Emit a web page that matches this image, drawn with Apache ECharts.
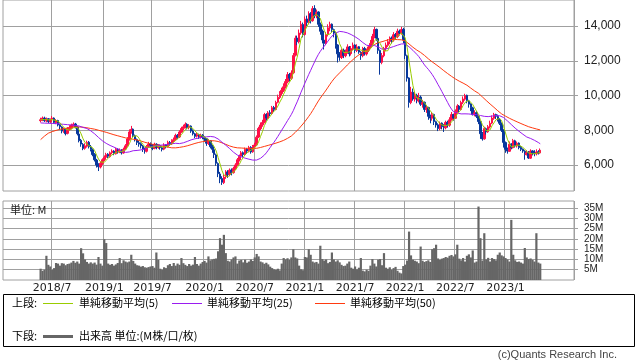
<!DOCTYPE html>
<html><head><meta charset="utf-8">
<script src="https://cdn.jsdelivr.net/npm/echarts@6/dist/echarts.min.js"></script>
<style>html,body{margin:0;padding:0;background:#fff}#c{width:638px;height:362px}</style>
</head><body><div id="c"></div>
<script>
// weekly categories start (Monday) and count; first candle index
const START_UTC = Date.UTC(2018, 0, 8);
const WEEKS = 296;
const FIRST = 19;
const LAST_GRID_INDEX = 279;

// weekly candles [open, close, low, high]
const ohlc = [
[8550,8600,8450,8720],[8620,8700,8520,8790],[8700,8550,8480,8780],[8530,8650,8460,8730],[8660,8500,8400,8700],[8480,8620,8420,8680],[8640,8700,8560,8820],[8700,8450,8380,8740],[8430,8550,8350,8640],[8560,8300,8220,8600],
[8320,8200,8050,8380],[8180,7950,7820,8230],[7930,8050,7850,8150],[8060,7800,7700,8100],[7820,8100,7760,8180],[8080,8150,7980,8290],[8140,8300,8050,8380],[8310,8350,8200,8450],[8360,8200,8100,8420],[8180,7800,7700,8230],
[7780,7400,7300,7850],[7420,7200,7050,7500],[7180,6950,6850,7260],[6960,7100,6880,7250],[7080,7300,7000,7400],[7310,7050,6950,7380],[7040,6900,6780,7150],[6880,6600,6500,6950],[6620,6300,6200,6680],[6280,6000,5850,6350],
[6020,5900,5650,6100],[5880,6100,5800,6200],[6080,6300,6000,6380],[6310,6450,6220,6550],[6440,6600,6380,6700],[6620,6500,6400,6680],[6480,6700,6420,6780],[6710,6800,6620,6900],[6800,6650,6560,6850],[6640,6900,6600,6980],
[6910,6750,6650,6960],[6740,6850,6680,6950],[6860,6700,6600,6900],[6690,6900,6650,7000],[6920,7100,6850,7200],[7110,7500,7050,7600],[7480,7900,7400,8050],[7920,8050,7800,8250],[8060,7700,7600,8100],[7680,7450,7350,7750],
[7460,7300,7150,7520],[7280,7200,7050,7400],[7220,7100,6950,7300],[7080,6900,6750,7150],[6920,6800,6650,7000],[6790,7050,6720,7150],[7060,7200,6980,7330],[7210,7150,7000,7300],[7140,6950,6850,7200],[6960,7200,6900,7280],
[7190,7000,6900,7250],[7010,7100,6930,7200],[7110,7000,6880,7180],[6990,6900,6780,7080],[6910,7150,6850,7250],[7140,7050,6950,7200],[7060,7300,7000,7400],[7290,7200,7100,7380],[7210,7400,7150,7480],[7390,7450,7300,7580],
[7460,7700,7400,7800],[7710,7600,7480,7780],[7610,7900,7550,8000],[7890,8100,7850,8200],[8110,8200,8000,8320],[8190,8350,8100,8450],[8340,8150,8050,8400],[8160,8250,8050,8350],[8240,7950,7850,8280],[7960,7800,7700,8050],
[7790,7650,7550,7850],[7660,7750,7580,7850],[7740,7600,7500,7800],[7610,7700,7520,7800],[7710,7600,7480,7780],[7590,7500,7350,7650],[7510,7250,7100,7550],[7240,7400,7150,7500],[7390,7050,6950,7420],[7060,6900,6700,7150],
[6880,6600,6400,6950],[6580,6100,5950,6650],[6080,5500,5300,6150],[5480,5200,4950,5600],[5220,5000,4850,5350],[4980,5300,4900,5450],[5320,5600,5200,5700],[5590,5450,5250,5700],[5460,5700,5350,5800],[5710,5550,5400,5800],
[5560,5800,5500,5900],[5790,6000,5700,6100],[6010,6300,5950,6400],[6290,6500,6200,6600],[6510,6700,6400,6800],[6710,6600,6450,6780],[6590,6900,6550,7000],[6910,6800,6650,6980],[6790,7000,6720,7100],[7010,6750,6650,7080],
[6760,7050,6700,7150],[7040,7150,6950,7280],[7160,7600,7100,7700],[7610,8100,7550,8200],[8090,8300,8000,8450],[8310,8450,8200,8600],[8440,8900,8400,9000],[8910,8700,8550,8980],[8690,9000,8650,9100],[9010,8950,8800,9150],
[8960,9300,8900,9400],[9310,9200,9050,9400],[9190,9600,9150,9700],[9610,9900,9550,10050],[9890,10100,9800,10250],[10110,10300,10000,10450],[10290,10500,10200,10700],[10510,10800,10400,10950],[10790,11200,10700,11350],[11210,11000,10800,11300],
[10990,11300,10900,11450],[11310,12300,11250,12450],[12320,13300,12250,13450],[13310,13100,12900,13450],[13090,13600,13000,13800],[13610,14100,13500,14300],[14090,13500,13350,14200],[13510,14400,13450,14550],[14410,14200,14000,14600],[14190,14700,14100,14850],
[14710,14300,14150,14800],[14310,15000,14250,15150],[15010,14600,14450,15200],[14590,14800,14450,14950],[14810,14100,13950,14850],[14090,13700,13500,14200],[13710,13200,13000,13800],[13190,13000,12650,13300],[12990,13500,12900,13650],[13510,13900,13400,14100],
[13890,14100,13700,14250],[14110,13800,13650,14150],[13790,13600,13350,13850],[13590,12900,12700,13650],[12910,12400,11900,12950],[12390,12200,12000,12500],[12190,12600,12100,12700],[12610,12300,12150,12700],[12290,12500,12200,12650],[12510,12800,12400,12950],
[12790,12400,12250,12850],[12410,12700,12300,12850],[12690,12900,12600,13050],[12910,12600,12450,12950],[12590,12800,12500,12950],[12810,12500,12400,12850],[12490,12300,12050,12550],[12290,12700,12200,12800],[12710,12400,12300,12800],[12390,12600,12300,12700],
[12610,12800,12500,12900],[12790,13000,12700,13200],[13010,13400,12900,13550],[13390,13800,13300,13950],[13810,13300,13150,13850],[13290,12600,12400,13350],[12590,11900,11200,12650],[11910,12300,11800,12450],[12290,12700,12200,12800],[12710,12900,12550,13050],
[12890,13100,12800,13250],[13110,13300,12950,13400],[13310,13200,13000,13400],[13190,13500,13100,13650],[13510,13400,13200,13600],[13390,13700,13300,13850],[13710,13600,13450,13800],[13590,13800,13500,13950],[13810,13200,13000,13900],[13190,12300,12100,13250],
[12290,11000,10800,12350],[11010,9600,9300,11050],[9590,10200,9500,10500],[10190,9800,9700,10400],[9790,10000,9650,10200],[10010,9700,9550,10100],[9690,9900,9600,10150],[9910,9500,9400,10000],[9490,9600,9300,9750],[9610,9200,9050,9650],
[9190,9300,9000,9450],[9310,8800,8600,9350],[8810,8700,8400,8900],[8690,8900,8550,9050],[8910,8500,8300,8950],[8490,8300,8150,8550],[8310,8100,7950,8400],[8090,8400,8000,8500],[8410,8200,8050,8450],[8190,8150,7900,8350],
[8140,8450,8050,8550],[8460,8300,8150,8550],[8290,8600,8200,8750],[8610,8900,8550,9050],[8910,8700,8550,8950],[8690,9100,8650,9200],[9110,9400,9000,9500],[9390,9200,9050,9450],[9190,9600,9150,9700],[9610,9800,9500,9950],
[9790,10000,9700,10100],[10010,9700,9550,10050],[9690,9500,9300,9750],[9510,9300,9100,9550],[9290,8900,8850,9350],[8890,9000,8800,9150],[9010,8800,8700,9100],[8790,8500,8350,8850],[8490,7800,7500,8550],[7790,7500,7400,7900],
[7510,8100,7450,8200],[8090,7900,7750,8150],[7910,8200,7850,8300],[8190,8400,8100,8550],[8410,8700,8350,8850],[8690,8900,8600,9000],[8910,8800,8650,8950],[8790,8600,8500,8900],[8610,8400,8300,8700],[8390,8000,7900,8450],
[8010,7300,7000,8050],[7290,6900,6700,7350],[6910,6800,6650,7000],[6790,7200,6750,7350],[7210,7000,6900,7250],[6990,7400,6950,7500],[7390,7100,7000,7450],[7090,7250,7000,7350],[7260,7000,6900,7300],[7010,6900,6800,7100],
[6910,6800,6700,6950],[6790,6600,6300,6850],[6590,6700,6550,6850],[6710,6400,6350,6800],[6390,6800,6350,6900],[6810,6700,6550,6850],[6690,6650,6500,6850],[6640,6750,6550,6900],[6760,6700,6600,6850],[6690,6850,6650,6950]
];

// weekly volume in millions
const volume = [
5.5,4.5,5.0,11.8,7.4,6.6,5.0,5.8,8.3,8.0,
7.0,8.2,8.0,7.2,7.8,8.0,8.5,9.3,8.4,9.0,
8.0,15.5,13.0,10.0,8.8,8.0,8.6,8.0,8.5,7.5,
11.2,8.0,7.0,19.9,18.0,8.0,7.4,7.8,7.0,7.6,
8.3,10.7,8.2,9.6,9.0,8.6,9.0,12.3,9.3,8.0,
7.2,7.0,6.5,6.8,6.2,6.0,6.3,6.6,6.8,6.0,
13.4,9.9,5.5,5.0,6.2,5.8,7.2,7.8,6.8,8.3,
7.0,8.0,7.4,10.7,8.2,7.4,6.8,7.8,7.0,7.5,
11.2,7.8,7.0,8.0,8.8,9.3,8.5,11.5,9.6,10.0,
10.3,10.5,14.0,20.4,17.2,22.0,13.1,9.4,9.0,10.0,
11.0,11.5,8.0,9.5,9.8,8.6,9.9,8.4,9.0,10.0,
9.3,11.0,12.7,11.5,9.0,8.6,7.9,8.4,7.6,6.5,
5.8,5.2,4.9,5.5,4.7,8.0,10.7,10.0,10.6,9.8,
11.0,15.0,11.0,10.5,7.0,5.2,4.8,11.2,11.0,15.0,
12.3,9.0,8.5,8.8,8.0,16.7,10.2,9.5,10.0,8.2,
8.8,13.4,10.0,9.0,9.6,8.6,7.4,6.8,7.0,8.0,
9.0,6.0,5.5,6.6,5.2,6.0,10.7,4.6,4.2,5.0,
4.5,7.0,10.2,8.0,6.6,9.9,10.2,7.2,13.1,6.0,
5.5,6.2,5.0,5.8,6.4,4.5,3.6,3.2,6.8,7.5,
9.5,23.6,12.0,9.9,9.4,9.0,8.2,16.3,9.4,8.8,
9.2,9.6,8.8,15.0,15.5,17.2,10.5,9.8,10.4,10.7,
11.2,10.9,11.8,12.2,11.5,12.5,17.2,10.4,9.6,10.7,
9.0,11.8,12.5,11.0,14.4,8.5,9.0,35.8,20.4,9.5,
22.8,10.0,10.8,9.0,10.7,10.2,9.6,12.3,13.4,12.0,
11.5,10.7,10.0,9.0,29.3,12.3,9.6,8.8,9.0,8.5,
8.0,15.6,11.0,10.2,10.5,9.8,9.0,22.8,8.5,8.0
];

const ma25Head = [8420,8415,8410,8405,8400,8395,8390,8385,8380,8370,8360,8350,8340,8330,8320,8310,8300,8290,8280,8270,8240,8200,8160,8130];
const ma50Head = [7460,7560,7660,7750,7830,7880,7920,7960,7990,8020,8050,8070,8090,8110,8130,8150,8170,8180,8190,8190,8190,8185,8175,8160,8140,8120,8100,8080,8060,8030,8000,7970,7940,7910,7880,7850,7810,7780,7740,7710,7680,7650,7620,7590,7560,7540,7520,7500,7480];

const priceTicks = [6000, 8000, 10000, 12000, 14000];
const volTicks = [5, 10, 15, 20, 25, 30, 35];
const maLabels = ['単純移動平均(5)', '単純移動平均(25)', '単純移動平均(50)'];
const volLabel = '出来高 単位:(M株/口/枚)';

// categories
const cats = [];
for (let k = 0; k < WEEKS; k++) {
  const d = new Date(START_UTC + k * 7 * 864e5);
  cats.push(d.getUTCFullYear() + '/' + (d.getUTCMonth() + 1) + '/' + d.getUTCDate());
}
const monthOf = s => +s.split('/')[1];
const isBoundary = (idx) => {
  if (idx === 0 || idx > LAST_GRID_INDEX) return false;
  const m = monthOf(cats[idx]), pm = monthOf(cats[idx - 1]);
  return (m === 1 || m === 7) && m !== pm;
};

const closes = ohlc.map(d => d[1]);
function sma(n, head) {
  return closes.map((c, i) => {
    if (i < n - 1) return head ? head[i] : null;
    let s = 0; for (let j = i - n + 1; j <= i; j++) s += closes[j];
    return s / n;
  });
}
const ma5 = closes.map((c, i) => { const a = closes.slice(Math.max(0, i - 4), i + 1); return a.reduce((x, y) => x + y, 0) / a.length; });
const ma25 = sma(25, ma25Head);
const ma50 = sma(50, ma50Head);

const GRID = '#a0a0a0';
const UP = '#ff1048', DOWN = '#08389c';
const C5 = '#99cc00', C25 = '#9a1cf0', C50 = '#ff3a10';

const xBase = {
  type: 'category', data: cats, boundaryGap: true,
  axisLine: { show: false }, axisTick: { show: false },
  splitLine: { show: true, interval: (i) => isBoundary(i), lineStyle: { color: GRID, width: 1 } }
};

const chart = echarts.init(document.getElementById('c'), null, { renderer: 'canvas' });
chart.setOption({
  animation: false,
  backgroundColor: '#fff',
  grid: [
    { left: 3, top: 0, width: 571, height: 191, show: true, borderColor: GRID, borderWidth: 1, containLabel: false, outerBoundsMode: 'none' },
    { left: 3, top: 201, width: 571, height: 79, show: true, borderColor: GRID, borderWidth: 1, containLabel: false, outerBoundsMode: 'none' }
  ],
  xAxis: [
    Object.assign({}, xBase, { gridIndex: 0, axisLabel: { show: false } }),
    Object.assign({}, xBase, { gridIndex: 1, axisLabel: {
      show: true, interval: (i) => isBoundary(i), margin: 3,
      formatter: v => v.split('/')[0] + '/' + v.split('/')[1],
      fontFamily: 'DejaVu Sans', fontSize: 11, color: '#222'
    } })
  ],
  yAxis: [
    { type: 'value', gridIndex: 0, position: 'right', min: 4500, max: 15500,
      axisLine: { show: false },
      axisTick: { show: true, length: 4, customValues: priceTicks, lineStyle: { color: GRID } },
      axisLabel: { show: true, customValues: priceTicks, margin: 10, fontFamily: 'Liberation Sans', fontSize: 12, color: '#222',
        formatter: v => Number(v).toLocaleString('en-US') },
      splitLine: { show: true, lineStyle: { color: GRID, width: 1 } } },
    { type: 'value', gridIndex: 1, position: 'right', min: 0, max: 38.5,
      axisLine: { show: false },
      axisTick: { show: true, length: 4, customValues: volTicks, lineStyle: { color: GRID } },
      axisLabel: { show: true, customValues: volTicks, margin: 10, fontFamily: '"Liberation Sans Narrow", "Liberation Sans"', fontSize: 10, color: '#222',
        formatter: v => v + 'M' },
      splitLine: { show: true, lineStyle: { color: GRID, width: 1 } } }
  ],
  series: [
    { type: 'candlestick', xAxisIndex: 0, yAxisIndex: 0,
      data: ohlc.map((d, i) => [FIRST + i, d[0], d[1], d[2], d[3]]),
      encode: { x: 0, y: [1, 2, 3, 4] },
      barWidth: 2, barMinWidth: 1, barMaxWidth: 2.5,
      itemStyle: { color: UP, color0: DOWN, borderColor: UP, borderColor0: DOWN, borderWidth: 1 } },
    { type: 'line', xAxisIndex: 0, yAxisIndex: 0, data: ma50.map((v, i) => [FIRST + i, v]), showSymbol: false, symbol: 'none', lineStyle: { color: C50, width: 1 }, z: 3 },
    { type: 'line', xAxisIndex: 0, yAxisIndex: 0, data: ma25.map((v, i) => [FIRST + i, v]), showSymbol: false, symbol: 'none', lineStyle: { color: C25, width: 1 }, z: 3 },
    { type: 'line', xAxisIndex: 0, yAxisIndex: 0, data: ma5.map((v, i) => [FIRST + i, v]), showSymbol: false, symbol: 'none', lineStyle: { color: C5, width: 1 }, z: 3 },
    { type: 'bar', xAxisIndex: 1, yAxisIndex: 1, data: volume.map((v, i) => [FIRST + i, v]),
      barWidth: 2.2, itemStyle: { color: '#666666' } }
  ],
  graphic: [
    { type: 'text', left: 10, top: 204, style: { text: '単位: M', font: '11px "Noto Sans CJK JP"', fill: '#222' }, z: 10 },
    { type: 'rect', shape: { x: 3.5, y: 294.5, width: 631, height: 52 }, style: { fill: 'none', stroke: '#000', lineWidth: 1 } },
    { type: 'text', x: 12, y: 303, style: { text: '上段:', font: '11px "Noto Sans CJK JP"', fill: '#000', verticalAlign: 'middle' } },
    { type: 'line', shape: { x1: 43, y1: 303.5, x2: 73, y2: 303.5 }, style: { stroke: C5, lineWidth: 1 } },
    { type: 'text', x: 79, y: 303, style: { text: maLabels[0], font: '11px "Noto Sans CJK JP"', fill: '#000', verticalAlign: 'middle' } },
    { type: 'line', shape: { x1: 172, y1: 303.5, x2: 202, y2: 303.5 }, style: { stroke: C25, lineWidth: 1 } },
    { type: 'text', x: 207, y: 303, style: { text: maLabels[1], font: '11px "Noto Sans CJK JP"', fill: '#000', verticalAlign: 'middle' } },
    { type: 'line', shape: { x1: 315, y1: 303.5, x2: 345, y2: 303.5 }, style: { stroke: C50, lineWidth: 1 } },
    { type: 'text', x: 350, y: 303, style: { text: maLabels[2], font: '11px "Noto Sans CJK JP"', fill: '#000', verticalAlign: 'middle' } },
    { type: 'text', x: 12, y: 336, style: { text: '下段:', font: '11px "Noto Sans CJK JP"', fill: '#000', verticalAlign: 'middle' } },
    { type: 'line', shape: { x1: 43, y1: 336.5, x2: 73, y2: 336.5 }, style: { stroke: '#666666', lineWidth: 3 } },
    { type: 'text', x: 79, y: 336, style: { text: volLabel, font: '11px "Noto Sans CJK JP"', fill: '#000', verticalAlign: 'middle' } },
    { type: 'text', x: 617, y: 355, style: { text: '(c)Quants Research Inc.', font: '11px "Liberation Sans"', fill: '#444', align: 'right', verticalAlign: 'middle' } }
  ]
});
</script></body></html>
